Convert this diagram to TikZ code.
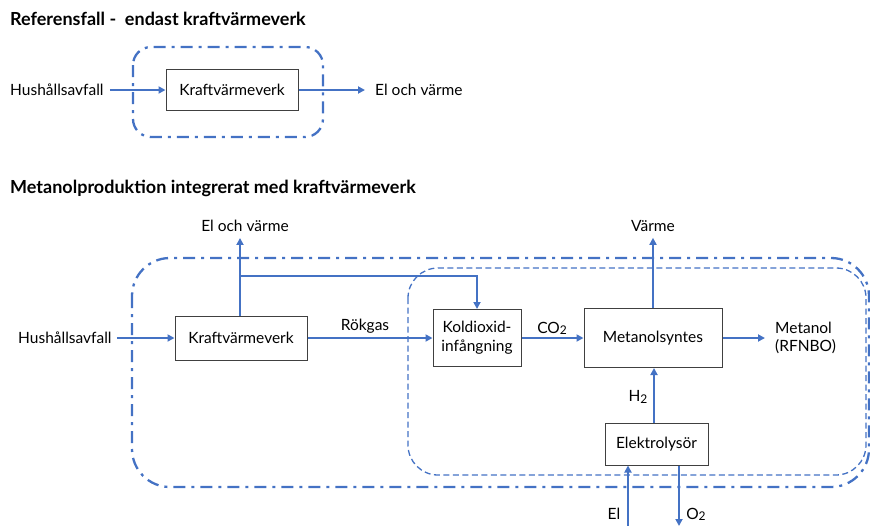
\documentclass[tikz,border=0pt]{standalone}
\usepackage{fontspec}
\setmainfont{Lato}
\usetikzlibrary{arrows.meta}
\definecolor{flow}{HTML}{4472C4}
\definecolor{boxline}{HTML}{404040}
\tikzset{
  proc/.style={draw=boxline, line width=1pt, fill=white, inner sep=0pt, align=center, font=\fontsize{15.5}{18}\selectfont},
  lbl/.style={inner sep=0pt, align=left, font=\fontsize{15.5}{18}\selectfont},
  heading/.style={inner sep=0pt, anchor=base west, font=\bfseries\fontsize{18}{21}\selectfont},
  stream/.style={draw=flow, line width=2.3pt, -{Triangle[length=7pt,width=7pt]}},
  system/.style={draw=flow, line width=2.3pt, rounded corners=18pt, dash pattern=on 12pt off 6pt on 3pt off 6pt},
  subsystem/.style={draw=flow, line width=1.3pt, rounded corners=30pt, dash pattern=on 6pt off 3.5pt},
}
\newcommand{\lowtwo}{\raisebox{-0.15ex}{\fontsize{12}{14}\selectfont 2}}
\begin{document}
\begin{tikzpicture}[x=1pt,y=-1pt]
\useasboundingbox (0,0) rectangle (870,525);

% ---- reference case ----
\node[heading] (t1) at (10,25) {Referensfall -\ \ endast kraftvärmeverk};
\draw[system] (133,47) rectangle (323,137);
\node[proc, minimum width=132pt, minimum height=41pt] (kvv1) at (232,90) {Kraftvärmeverk};
\node[lbl, anchor=west] (in1) at (10,90) {Hushållsavfall};
\node[lbl, anchor=west] (out1) at (375,90) {El och värme};
\draw[stream] ([xshift=6pt]in1.east) -- (kvv1.west);
\draw[stream] (kvv1.east) -- ([xshift=-10pt]out1.west);

% ---- integrated case ----
\node[heading] (t2) at (10,193) {Metanolproduktion integrerat med kraftvärmeverk};
\draw[system, rounded corners=38pt] (132,258) rectangle (869,487);
\draw[subsystem] (408,268) rectangle (866,475);

\node[proc, minimum width=132pt, minimum height=44pt] (kvv2) at (241,338) {Kraftvärmeverk};
\node[proc, minimum width=88pt, minimum height=57pt, font=\fontsize{15.5}{19}\selectfont] (cc) at (477,338) {Koldioxid-\\infångning};
\node[proc, minimum width=138pt, minimum height=59pt] (ms) at (653,338) {Metanolsyntes};
\node[proc, minimum width=103pt, minimum height=42pt] (el) at (656.5,444) {Elektrolysör};

\node[lbl, anchor=west] (in2) at (18,338) {Hushållsavfall};
\node[lbl, anchor=center] (heat1) at (245,226) {El och värme};
\node[lbl, anchor=center] (heat2) at (653,226) {Värme};
\node[lbl, anchor=west] (meoh) at (775,338) {Metanol\\(RFNBO)};
\node[lbl, anchor=south] (flue) at (365,334) {Rökgas};
\node[lbl, anchor=south] (co2) at (552,335) {CO\lowtwo};
\node[lbl, anchor=center] (h2) at (638,397) {H\lowtwo};
\node[lbl, anchor=center] (elin) at (614,514) {El};
\node[lbl, anchor=center] (o2) at (696,514) {O\lowtwo};

\coordinate (elbot) at (628,526);
\coordinate (o2bot) at (679,526);
\coordinate (split) at (240,276);
\coordinate (h2x) at (654,0);

\draw[stream] ([xshift=5pt]in2.east) -- (kvv2.west);
\draw[stream] (kvv2.east) -- (cc.west);
\draw[stream] (cc.east) -- (ms.west);
\draw[stream] (ms.east) -- ([xshift=-10pt]meoh.west);
\draw[stream] (kvv2.north -| split) -- ([yshift=-6pt]heat1.south -| split);
\draw[stream] (split) -| (cc.north);
\draw[stream] (ms.north) -- ([yshift=-6pt]heat2.south -| ms.north);
\draw[stream] (el.north -| h2x) -- (ms.south -| h2x);
\draw[stream] (elbot) -- (el.south -| elbot);
\draw[stream] (el.south -| o2bot) -- (o2bot);
\end{tikzpicture}
\end{document}
